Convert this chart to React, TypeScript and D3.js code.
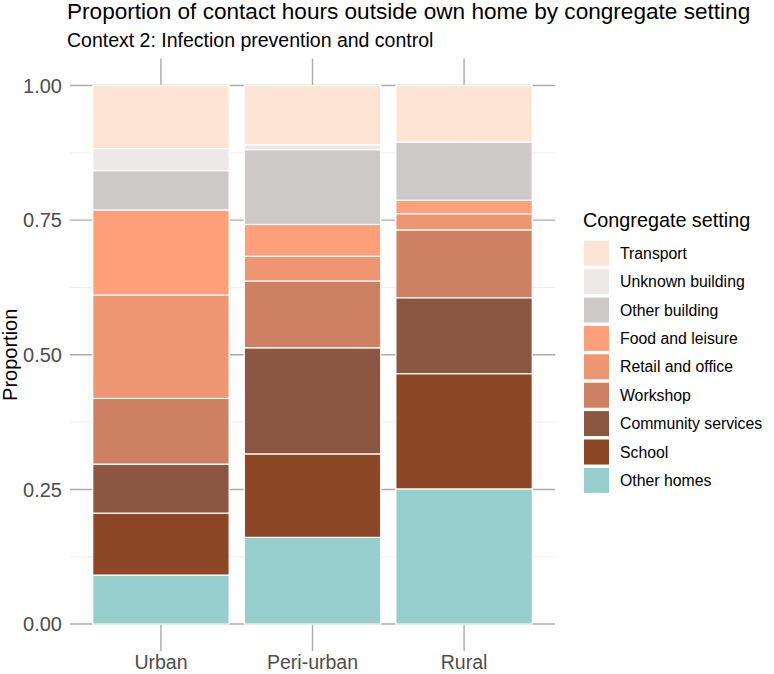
import React from "react";
import * as d3 from "d3";

// Settings (stacking order: bottom to top)
const settings = [
  "Other homes",
  "School",
  "Community services",
  "Workshop",
  "Retail and office",
  "Food and leisure",
  "Other building",
  "Unknown building",
  "Transport",
];

const settingColors = [
  "#96cdcd",
  "#8b4726",
  "#8b5742",
  "#cd8162",
  "#ee9572",
  "#ffa07a",
  "#cdc9c9",
  "#eee9e9",
  "#fee5d3",
];

const areas = ["Urban", "Peri-urban", "Rural"];

// Proportions per setting, same order as `settings`
const urban = [0.091, 0.115, 0.091, 0.122, 0.192, 0.158, 0.073, 0.041, 0.117];
const periUrban = [0.161, 0.155, 0.197, 0.124, 0.046, 0.059, 0.139, 0.009, 0.11];
const rural = [0.251, 0.214, 0.141, 0.126, 0.03, 0.025, 0.108, 0.0, 0.105];

const yTicks = [0, 0.25, 0.5, 0.75, 1];
const yMinorTicks = [0.125, 0.375, 0.625, 0.875];

const W = 774;
const H = 674;
const panel = { left: 70, right: 555, top: 58.6, bottom: 651 };
const FONT = "'Liberation Sans', Arial, sans-serif";

export default function App() {
  const values = [urban, periUrban, rural];

  const x = d3
    .scaleBand<string>()
    .domain(areas)
    .range([panel.left, panel.right])
    .paddingInner(0.1)
    .paddingOuter(0.15);

  const y = d3
    .scaleLinear()
    .domain([-0.05, 1.05])
    .range([panel.bottom, panel.top]);

  const rows = areas.map((a, i) => {
    const r: Record<string, any> = { area: a };
    settings.forEach((s, j) => (r[s] = values[i][j]));
    return r;
  });
  const stack = d3.stack<Record<string, any>>().keys(settings);
  const series = stack(rows);

  const color = d3.scaleOrdinal<string, string>().domain(settings).range(settingColors);

  const legendItems = [...settings].reverse();
  const gridMajor = "#ababab";
  const gridMinor = "#ececec";

  return (
    <svg
      width={W}
      height={H}
      style={{ position: "absolute", left: 0, top: 0, background: "#fff" }}
      fontFamily={FONT}
    >
      {/* minor grid */}
      {yMinorTicks.map((t) => (
        <line
          key={"mn" + t}
          x1={panel.left}
          x2={panel.right}
          y1={y(t)}
          y2={y(t)}
          stroke={gridMinor}
          strokeWidth={0.8}
        />
      ))}
      {/* major grid */}
      {yTicks.map((t) => (
        <line
          key={"mj" + t}
          x1={panel.left}
          x2={panel.right}
          y1={y(t)}
          y2={y(t)}
          stroke={gridMajor}
          strokeWidth={1.4}
        />
      ))}
      {areas.map((a) => (
        <line
          key={"vx" + a}
          x1={x(a)! + x.bandwidth() / 2}
          x2={x(a)! + x.bandwidth() / 2}
          y1={panel.top}
          y2={panel.bottom}
          stroke={gridMajor}
          strokeWidth={1.4}
        />
      ))}

      {/* stacked bars */}
      {series.map((s) => (
        <g key={s.key} fill={color(s.key)}>
          {s.map((d, i) =>
            d[1] - d[0] > 0 ? (
              <rect
                key={i}
                x={x(areas[i])}
                width={x.bandwidth()}
                y={y(d[1])}
                height={y(d[0]) - y(d[1])}
                stroke="#ffffff"
                strokeWidth={1.2}
              />
            ) : null
          )}
        </g>
      ))}

      {/* y axis labels */}
      {yTicks.map((t) => (
        <text
          key={"yl" + t}
          x={62}
          y={y(t)}
          dy="0.36em"
          textAnchor="end"
          fontSize={20}
          fill="#4d4d4d"
        >
          {d3.format(".2f")(t)}
        </text>
      ))}
      <text
        transform={`translate(17,${(panel.top + panel.bottom) / 2}) rotate(-90)`}
        textAnchor="middle"
        fontSize={20}
        fill="#000"
      >
        Proportion
      </text>

      {/* x axis labels */}
      {areas.map((a) => (
        <text
          key={"xl" + a}
          x={x(a)! + x.bandwidth() / 2}
          y={669}
          textAnchor="middle"
          fontSize={19.5}
          fill="#4d4d4d"
        >
          {a}
        </text>
      ))}

      {/* titles */}
      <text x={67} y={19} fontSize={22.6} fill="#000">
        Proportion of contact hours outside own home by congregate setting
      </text>
      <text x={67} y={47} fontSize={19.5} fill="#000">
        Context 2: Infection prevention and control
      </text>

      {/* legend */}
      <text x={583} y={227} fontSize={19.8} fill="#000">
        Congregate setting
      </text>
      {legendItems.map((s, i) => (
        <g key={"lg" + s} transform={`translate(584,${240.7 + i * 28.4})`}>
          <rect width={25} height={25} fill={color(s)} />
          <text x={36} y={12.5} dy="0.36em" fontSize={15.8} fill="#000">
            {s}
          </text>
        </g>
      ))}
    </svg>
  );
}
